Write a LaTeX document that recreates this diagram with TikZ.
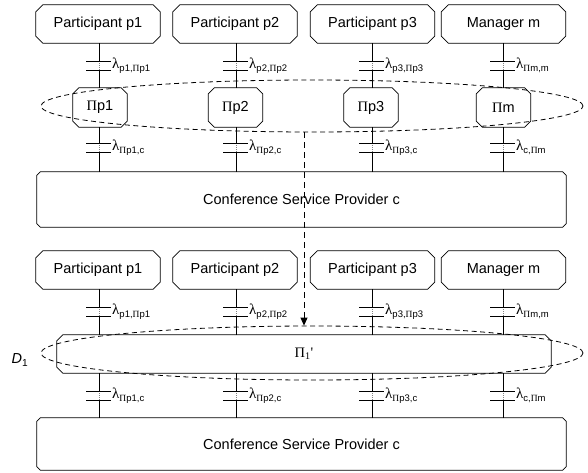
\documentclass[tikz,border=0pt]{standalone}
\usepackage{fontspec}
\setmainfont{Liberation Sans}
\newfontfamily\symf{Liberation Serif}
\usetikzlibrary{shapes.geometric,arrows.meta}
\newcommand\Lam{{\symf\fontsize{15}{16}\selectfont λ}}
\newcommand\PI{{\symf Π}}
\newcommand\lab[1]{\Lam\raisebox{-0.45ex}{\fontsize{9.5}{10}\selectfont #1}}
% name, x, y, w, h, chamfer, text
\newcommand\cbox[7]{%
 \node[rectangle, minimum width=#4pt, minimum height=#5pt, inner sep=0pt] (#1) at (#2,#3) {#7};
 \draw[conn] ([xshift=#6pt]#1.north west) -- ([xshift=-#6pt]#1.north east) -- ([yshift=-#6pt]#1.north east) -- ([yshift=#6pt]#1.south east) -- ([xshift=-#6pt]#1.south east) -- ([xshift=#6pt]#1.south west) -- ([yshift=#6pt]#1.south west) -- ([yshift=-#6pt]#1.north west) -- cycle;}
% column, top node, bottom node, y1, y2, name, label
\newcommand\link[7]{%
 \coordinate (#6a) at (#2.south -| #1);
 \coordinate (#6b) at (#3.north -| #1);
 \coordinate (#6p) at ($(#6a)!0!(#6b)$);
 \path (#1) ++(0,#4) coordinate (#6u) (#1) ++(0,#5) coordinate (#6d);
 \draw[conn] (#6a) -- (#6a |- #6u);
 \draw[conn] (#6a |- #6d) -- (#6b);
 \draw[gray, line width=0.4pt, dash pattern=on 0.8pt off 1.2pt] (#6a |- #6u) -- (#6a |- #6d);
 \draw[conn] ([xshift=-13pt]#6a |- #6u) -- ([xshift=12pt]#6a |- #6u);
 \draw[conn] ([xshift=-13pt]#6a |- #6d) -- ([xshift=12pt]#6a |- #6d);
 \node[anchor=west, inner sep=0pt] (#6l) at ($(#6a |- #6u)!0.5!(#6a |- #6d)+(13,0)$) {#7};}
\usetikzlibrary{calc}
\begin{document}
\begin{tikzpicture}[x=1pt,y=-1pt,
  conn/.style={line width=0.8pt},
  ell/.style={ellipse, draw, line width=0.8pt, dash pattern=on 5pt off 3.5pt, minimum width=542pt, minimum height=52pt, inner sep=0pt},
  font=\fontsize{14.5}{17}\selectfont]
\useasboundingbox (0,0) rectangle (588,473);
\coordinate (X1) at (99,0);
\coordinate (X2) at (236,0);
\coordinate (X3) at (372,0);
\coordinate (X4) at (503,0);
\coordinate (XA) at (304,0);
% ---------- upper diagram ----------
\cbox{p1}{98}{24}{124}{38}{7}{Participant p1}
\cbox{p2}{235}{24}{124}{38}{7}{Participant p2}
\cbox{p3}{372.5}{24}{124}{38}{7}{Participant p3}
\cbox{m}{503.5}{24}{124}{38}{7}{Manager m}
\cbox{P1}{100}{107.5}{54}{39}{6}{\PI p1}
\cbox{P2}{235.5}{107.5}{54}{39}{6}{\PI p2}
\cbox{P3}{371}{107.5}{54}{39}{6}{\PI p3}
\cbox{Pm}{503.5}{107.5}{54}{39}{6}{\PI m}
\cbox{csp}{301.5}{199.5}{529}{55}{3.5}{Conference Service Provider c}
\link{X1}{p1}{P1}{61}{70}{ta}{\lab{p1,\PI p1}}
\link{X2}{p2}{P2}{61}{70}{tb}{\lab{p2,\PI p2}}
\link{X3}{p3}{P3}{61}{70}{tc}{\lab{p3,\PI p3}}
\link{X4}{m}{Pm}{61}{70}{td}{\lab{\PI m,m}}
\link{X1}{P1}{csp}{143}{152}{ma}{\lab{\PI p1,c}}
\link{X2}{P2}{csp}{143}{152}{mb}{\lab{\PI p2,c}}
\link{X3}{P3}{csp}{143}{152}{mc}{\lab{\PI p3,c}}
\link{X4}{Pm}{csp}{143}{152}{md}{\lab{c,\PI m}}
\node[ell] (E1) at (312,106) {};
% ---------- lower diagram ----------
\cbox{q1}{98}{270}{124}{38}{7}{Participant p1}
\cbox{q2}{235}{270}{124}{38}{7}{Participant p2}
\cbox{q3}{372.5}{270}{124}{38}{7}{Participant p3}
\cbox{qm}{503.5}{270}{124}{38}{7}{Manager m}
\cbox{PP}{304}{354}{494}{38}{6}{{\symf Π\textsubscript{1}'}}
\cbox{csq}{301.5}{444}{529}{52}{3.5}{Conference Service Provider c}
\link{X1}{q1}{PP}{307}{316}{ua}{\lab{p1,\PI p1}}
\link{X2}{q2}{PP}{307}{316}{ub}{\lab{p2,\PI p2}}
\link{X3}{q3}{PP}{307}{316}{uc}{\lab{p3,\PI p3}}
\link{X4}{qm}{PP}{307}{316}{ud}{\lab{\PI m,m}}
\link{X1}{PP}{csq}{391}{400}{va}{\lab{\PI p1,c}}
\link{X2}{PP}{csq}{391}{400}{vb}{\lab{\PI p2,c}}
\link{X3}{PP}{csq}{391}{400}{vc}{\lab{\PI p3,c}}
\link{X4}{PP}{csq}{391}{400}{vd}{\lab{c,\PI m}}
\node[ell, minimum height=54pt] (E2) at (312,353) {};
\node (D1) at (20,360) {\textit{D}\textsubscript{1}};
% transition arrow
\draw[line width=0.8pt, dash pattern=on 6pt off 4pt, -{Triangle[length=8pt,width=7pt]}] (E1.south -| XA) -- (E2.north -| XA);
\end{tikzpicture}
\end{document}
